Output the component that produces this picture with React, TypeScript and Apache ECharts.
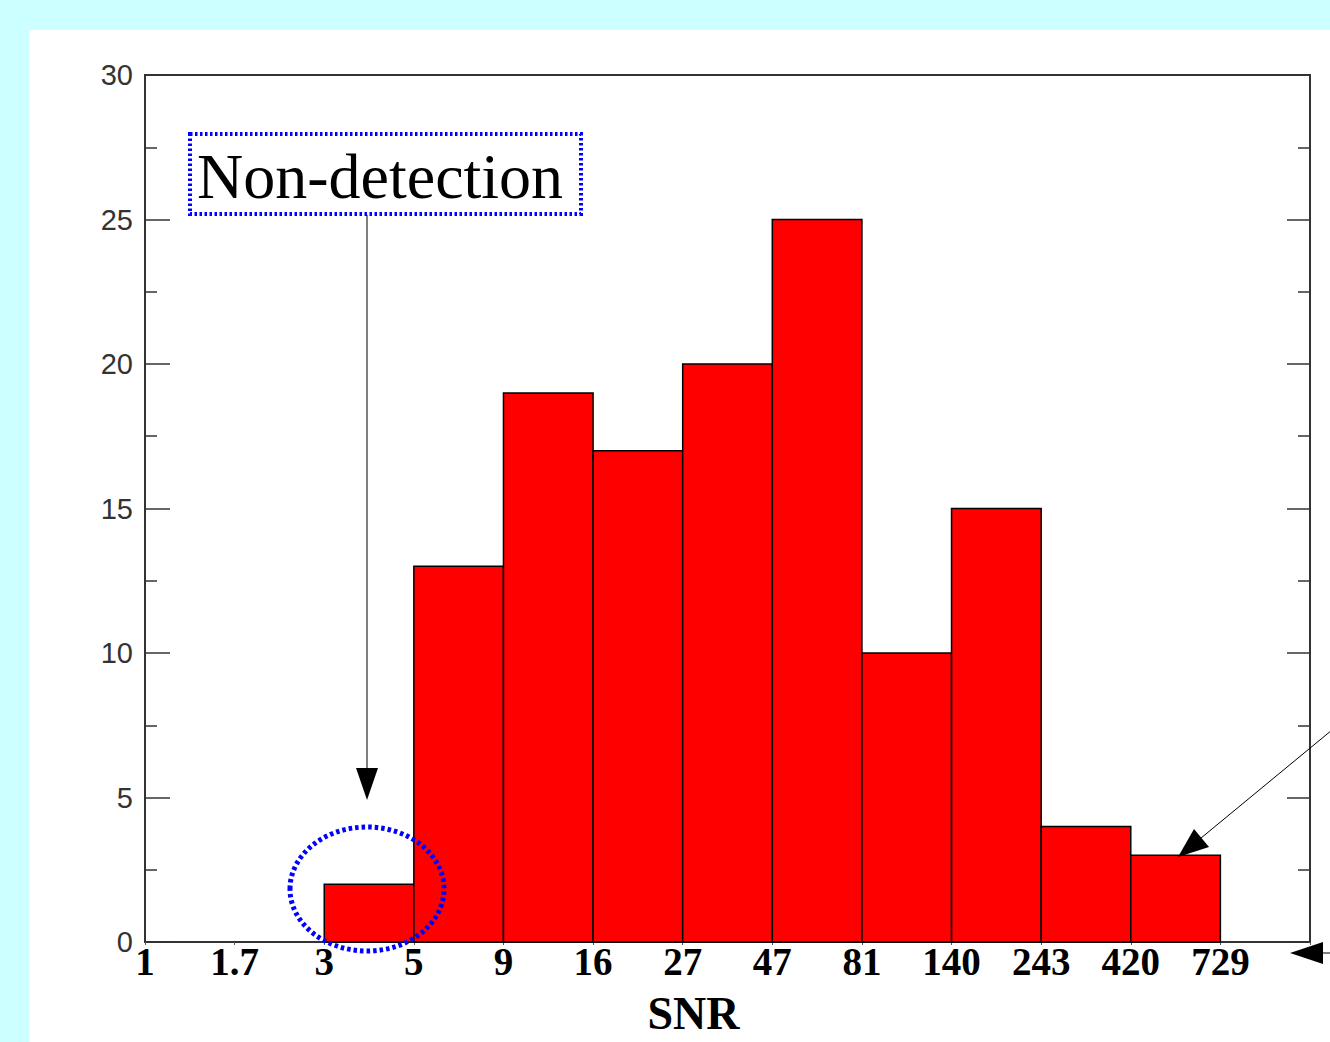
import React, { useEffect, useRef } from "react";
import * as echarts from "echarts";

// Bin boundary labels (SNR), evenly spaced on a log-like scale
const tickLabels = ["1", "1.7", "3", "5", "9", "16", "27", "47", "81", "140", "243", "420", "729"];
// Counts per bin (bin i spans tickLabels[i] .. tickLabels[i+1])
const counts = [0, 0, 2, 13, 19, 17, 20, 25, 10, 15, 4, 3];
const yTicks = [0, 5, 10, 15, 20, 25, 30];

export default function App() {
  const ref = useRef<HTMLDivElement>(null);
  useEffect(() => {
    if (!ref.current) return;
    const chart = echarts.init(ref.current, null, { renderer: "svg" });
    const histData = counts
      .map((c, i) => [i, i + 1, c])
      .filter((d) => d[2] > 0);
    const blue = "#0000ff";
    const option: any = {
      animation: false,
      backgroundColor: "#ccffff",
      grid: {
        left: 145,
        top: 75,
        right: 20,
        bottom: 100,
        outerBoundsMode: "none",
        containLabel: false,
        show: true,
        borderColor: "#333",
        borderWidth: 2,
        backgroundColor: "transparent",
      },
      xAxis: {
        type: "value",
        min: 0,
        max: 13,
        interval: 1,
        name: "SNR",
        nameLocation: "middle",
        nameGap: 48,
        nameTextStyle: {
          fontFamily: "Liberation Serif",
          fontWeight: "bold",
          fontSize: 46,
          color: "#000",
          padding: [0, 68, 0, 0],
        },
        splitLine: { show: false },
        axisLine: { show: true, lineStyle: { color: "#333", width: 2 } },
        axisTick: { show: true, inside: false, length: 3, lineStyle: { color: "#555", width: 1 } },
        axisLabel: {
          margin: 0,
          fontFamily: "Liberation Serif",
          fontWeight: "bold",
          fontSize: 39,
          color: "#000",
          formatter: (v: number) => tickLabels[v] ?? "",
        },
      },
      yAxis: [
        {
          type: "value",
          min: 0,
          max: 30,
          interval: 5,
          position: "left",
          splitLine: { show: false },
          axisLine: { show: true, lineStyle: { color: "#333", width: 2 } },
          axisTick: { show: true, inside: true, length: 25, lineStyle: { color: "#333", width: 1.5 } },
          minorTick: { show: true, splitNumber: 2, length: 12, lineStyle: { color: "#333", width: 1.5 } },
          axisLabel: {
            margin: 12,
            fontFamily: "Liberation Sans",
            fontSize: 29,
            color: "#333",
            formatter: (v: number) => (yTicks.includes(v) ? String(v) : ""),
          },
        },
        {
          type: "value",
          min: 0,
          max: 30,
          interval: 5,
          position: "right",
          splitLine: { show: false },
          axisLine: { show: true, lineStyle: { color: "#333", width: 2 } },
          axisTick: { show: true, inside: true, length: 23, lineStyle: { color: "#333", width: 1.5 } },
          minorTick: { show: true, splitNumber: 2, length: 12, lineStyle: { color: "#333", width: 1.5 } },
          axisLabel: { show: false },
        },
      ],
      series: [
        {
          type: "custom",
          xAxisIndex: 0,
          yAxisIndex: 0,
          encode: { x: [0, 1], y: 2 },
          data: histData,
          z: 2,
          renderItem: (params: any, api: any) => {
            const p0 = api.coord([api.value(0), api.value(2)]);
            const p1 = api.coord([api.value(1), 0]);
            return {
              type: "rect",
              shape: { x: p0[0], y: p0[1], width: p1[0] - p0[0], height: p1[1] - p0[1] },
              style: { fill: "#ff0000", stroke: "#000", lineWidth: 1.5 },
            };
          },
        },
      ],
      graphic: [
        {
          type: "rect",
          z: -100,
          silent: true,
          shape: { x: 29, y: 30, width: 1301, height: 1012 },
          style: { fill: "#ffffff" },
        },
        {
          type: "rect",
          z: 100,
          shape: { x: 190, y: 134, width: 391, height: 80 },
          style: { fill: "none", stroke: blue, lineWidth: 4, lineDash: [2.5, 2.5] },
        },
        {
          type: "text",
          z: 100,
          x: 197,
          y: 176,
          style: {
            text: "Non-detection",
            font: "64px 'Liberation Serif'",
            fill: "#000",
            textVerticalAlign: "middle",
            verticalAlign: "middle",
          },
        },
        {
          type: "line",
          z: 100,
          shape: { x1: 367, y1: 215, x2: 367, y2: 772 },
          style: { stroke: "#000", lineWidth: 1 },
        },
        {
          type: "polygon",
          z: 100,
          shape: { points: [[356, 768], [378, 768], [367, 800]] },
          style: { fill: "#000" },
        },
        {
          type: "ellipse",
          z: 100,
          shape: { cx: 367, cy: 889, rx: 77, ry: 62 },
          style: { fill: "none", stroke: blue, lineWidth: 5, lineDash: [3.5, 3] },
        },
        {
          type: "line",
          z: 100,
          shape: { x1: 1332, y1: 730, x2: 1195, y2: 843 },
          style: { stroke: "#000", lineWidth: 1 },
        },
        {
          type: "polygon",
          z: 100,
          shape: { points: [[1178, 857], [1194, 829], [1209, 847]] },
          style: { fill: "#000" },
        },
        {
          type: "polygon",
          z: 100,
          shape: { points: [[1290, 953], [1323, 942], [1323, 964]] },
          style: { fill: "#000" },
        },
        {
          type: "line",
          z: 100,
          shape: { x1: 1320, y1: 953, x2: 1332, y2: 953 },
          style: { stroke: "#000", lineWidth: 1 },
        },
      ],
    };
    chart.setOption(option);
    return () => chart.dispose();
  }, []);
  return (
    <div
      ref={ref}
      style={{ position: "fixed", left: 0, top: 0, width: 1330, height: 1042 }}
    />
  );
}
